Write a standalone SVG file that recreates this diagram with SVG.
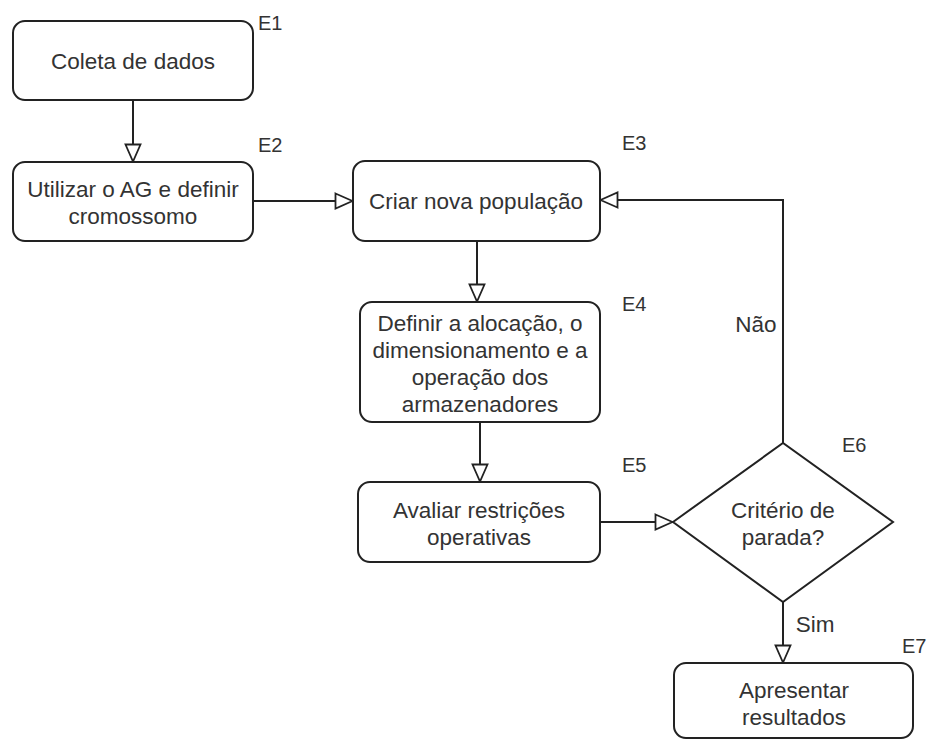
<svg xmlns="http://www.w3.org/2000/svg" width="930" height="740" viewBox="0 0 930 740">
<defs>
<style>
.box{fill:#fff;stroke:#222;stroke-width:2}
.t{font-family:"Liberation Sans",Arial,sans-serif;font-size:22.5px;fill:#333;text-anchor:middle}
.lbl{font-family:"Liberation Sans",Arial,sans-serif;font-size:20px;fill:#333}
.edge{fill:none;stroke:#222;stroke-width:2}
</style>
<marker id="arr" viewBox="0 0 20 18" refX="19" refY="9" markerWidth="20" markerHeight="18" markerUnits="userSpaceOnUse" orient="auto">
<path d="M1.5,1.5 L18.5,9 L1.5,16.5 Z" fill="#fff" stroke="#222" stroke-width="1.8"/>
</marker>
</defs>
<rect width="930" height="740" fill="#fff"/>
<g id="connectors">
<line class="edge" x1="133" y1="100" x2="133" y2="162" marker-end="url(#arr)"/>
<line class="edge" x1="253" y1="201" x2="353" y2="201" marker-end="url(#arr)"/>
<line class="edge" x1="477" y1="241" x2="477" y2="302" marker-end="url(#arr)"/>
<line class="edge" x1="480" y1="422" x2="480" y2="482" marker-end="url(#arr)"/>
<line class="edge" x1="600" y1="522" x2="673" y2="522" marker-end="url(#arr)"/>
<polyline class="edge" points="783,443 783,200 600,200" marker-end="url(#arr)"/>
<line class="edge" x1="783" y1="602" x2="783" y2="663" marker-end="url(#arr)"/>
<text class="t" x="756" y="332">Não</text>
<text class="t" x="815" y="632">Sim</text>
</g>
<g id="E1">
<rect class="box" x="13" y="21" width="240" height="79" rx="12"/>
<text class="t" x="133" y="69">Coleta de dados</text>
<text class="lbl" x="258" y="30">E1</text>
</g>
<g id="E2">
<rect class="box" x="13" y="162" width="240" height="79" rx="12"/>
<text class="t" x="133" y="197">Utilizar o AG e definir</text>
<text class="t" x="133" y="224">cromossomo</text>
<text class="lbl" x="258" y="152">E2</text>
</g>
<g id="E3">
<rect class="box" x="353" y="161" width="247" height="80" rx="12"/>
<text class="t" x="476" y="209">Criar nova população</text>
<text class="lbl" x="622" y="150">E3</text>
</g>
<g id="E4">
<rect class="box" x="360" y="302" width="240" height="120" rx="12"/>
<text class="t" x="480" y="331">Definir a alocação, o</text>
<text class="t" x="480" y="358">dimensionamento e a</text>
<text class="t" x="480" y="385">operação dos</text>
<text class="t" x="480" y="412">armazenadores</text>
<text class="lbl" x="622" y="311">E4</text>
</g>
<g id="E5">
<rect class="box" x="358" y="482" width="242" height="80" rx="12"/>
<text class="t" x="479" y="518">Avaliar restrições</text>
<text class="t" x="479" y="545">operativas</text>
<text class="lbl" x="622" y="472">E5</text>
</g>
<g id="E6">
<polygon class="box" points="673,522 783,443 893,522 783,602"/>
<text class="t" x="783" y="518">Critério de</text>
<text class="t" x="783" y="545">parada?</text>
<text class="lbl" x="842" y="452">E6</text>
</g>
<g id="E7">
<rect class="box" x="674" y="663" width="239" height="75" rx="12"/>
<text class="t" x="794" y="698">Apresentar</text>
<text class="t" x="794" y="725">resultados</text>
<text class="lbl" x="902" y="653">E7</text>
</g>
</svg>
